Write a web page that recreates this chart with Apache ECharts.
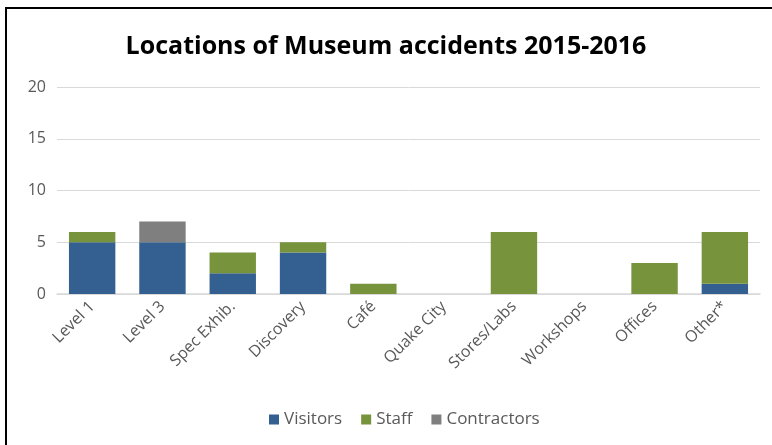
<!DOCTYPE html>
<html><head><meta charset="utf-8">
<script src="https://cdn.jsdelivr.net/npm/echarts@6/dist/echarts.min.js"></script>
<style>html,body{margin:0;padding:0;background:#fff}#c{width:772px;height:445px}</style>
</head><body><div id="c"></div>
<script>
const categories = ['Level 1','Level 3','Spec Exhib.','Discovery','Café','Quake City','Stores/Labs','Workshops','Offices','Other*'];
const visitors = [5,5,2,4,0,0,0,0,0,1];
const staff = [1,0,2,1,1,0,6,0,3,5];
const contractors = [0,2,0,0,0,0,0,0,0,0];
const yTicks = [0,5,10,15,20];

const chart = echarts.init(document.getElementById('c'));
const font = 'Open Sans, Noto Sans, sans-serif';
function ser(name, data, color){
  return {name, type:'bar', stack:'a', data, barWidth:'66%',
    itemStyle:{color, borderWidth:0}};
}
chart.setOption({
  animation:false,
  title:{text:'Locations of Museum accidents 2015-2016', left:'center', top:29,
    textStyle:{fontFamily:'Open Sans, sans-serif', fontSize:25, fontWeight:'bold', color:'#000'}},
  grid:{left:57, right:12, top:87, bottom:151, containLabel:false},
  legend:{bottom:12, left:264, itemWidth:10, itemHeight:10, itemGap:19, icon:'rect',
    textStyle:{fontFamily:font, fontSize:17, color:'#595959'},
    data:['Visitors','Staff','Contractors']},
  xAxis:{type:'category', data:categories,
    axisLine:{lineStyle:{color:'#d9d9d9', width:1.5}}, axisTick:{show:false},
    axisLabel:{rotate:45, interval:0, color:'#595959', fontFamily:font, fontSize:16, margin:10}},
  yAxis:{type:'value', min:yTicks[0], max:yTicks[yTicks.length-1], interval:5,
    axisLine:{show:false}, axisTick:{show:false},
    splitLine:{lineStyle:{color:'#d9d9d9', width:1}},
    axisLabel:{color:'#595959', fontFamily:font, fontSize:16, margin:11}},
  series:[ser('Visitors',visitors,'#335f91'), ser('Staff',staff,'#77933c'), ser('Contractors',contractors,'#7f7f7f')],
  graphic:[
    {type:'rect', shape:{x:5,y:7,width:800,height:2}, style:{fill:'#000'}},
    {type:'rect', shape:{x:5,y:7,width:2,height:460}, style:{fill:'#000'}}
  ]
});
</script></body></html>
